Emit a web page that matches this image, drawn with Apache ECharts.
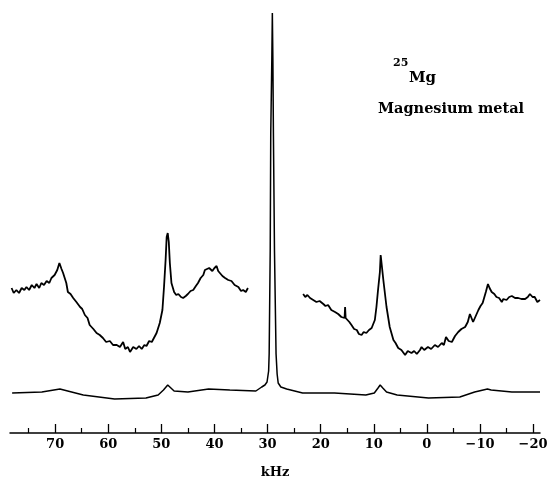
<!DOCTYPE html>
<html>
<head>
<meta charset="utf-8">
<script src="https://cdn.jsdelivr.net/npm/echarts@6/dist/echarts.min.js"></script>
<style>html,body{margin:0;padding:0;background:#fff}#c{width:547px;height:482px}</style>
</head>
<body>
<div id="c"></div>
<script>
// Frequency axis (kHz) tick values
const majorTicks = [70, 60, 50, 40, 30, 20, 10, 0, -10, -20];
const minorTicks = [75, 65, 55, 45, 35, 25, 15, 5, -5, -15];

// Lower trace (full scale): [kHz, intensity]
const lowerTrace = [[78.1,40],[72.5,41],[69.1,44],[64.7,38],[58.8,34],[52.9,35],[50.6,38],[49.6,43],[48.8,48],[48.2,45],[47.6,42],[45.0,41],[41.1,44],[37.1,43],[32.2,42],[31.1,46],[30.5,48],[30.1,51],[29.8,62],[29.7,79],[29.5,183],[29.4,300],[29.2,373],[29.1,420],[29.0,373],[28.9,300],[28.7,183],[28.4,79],[28.2,59],[28.0,50],[27.5,46],[26.4,44],[23.4,40],[17.4,40],[11.5,38],[9.9,40],[9.2,45],[8.8,48],[8.3,45],[7.6,41],[5.6,38],[-0.3,35],[-6.2,36],[-9.0,41],[-11.4,44],[-12.1,43],[-16.0,41],[-21.3,41]];

// Upper trace, left part (expanded vertical scale)
const upperLeft = [[78.2,145],[77.8,140],[77.3,143],[76.8,140],[76.3,145],[75.8,143],[75.4,146],[74.9,143],[74.4,148],[73.9,145],[73.5,149],[73.0,145],[72.6,150],[72.1,148],[71.6,152],[71.1,150],[70.7,155],[70.4,153],[70.1,158],[69.6,163],[69.2,170],[68.8,164],[68.5,160],[68.2,155],[67.9,150],[67.6,141],[67.1,139],[66.6,135],[66.0,131],[65.3,126],[64.9,124],[64.4,118],[63.9,115],[63.5,108],[62.8,104],[62.2,100],[61.6,98],[61.0,95],[60.4,91],[59.7,92],[59.1,88],[58.4,88],[57.8,86],[57.2,91],[56.8,84],[56.3,86],[55.9,81],[55.3,86],[54.7,84],[54.2,87],[53.7,84],[53.2,88],[52.8,87],[52.3,92],[51.8,91],[51.3,96],[50.9,100],[50.3,110],[49.8,123],[49.5,146],[49.2,173],[49.0,196],[48.8,200],[48.6,191],[48.4,170],[48.1,150],[47.6,141],[47.2,138],[46.8,139],[46.3,136],[45.9,135],[45.4,137],[45.0,139],[44.5,142],[44.0,143],[43.5,147],[43.1,150],[42.6,155],[42.1,158],[41.8,163],[41.5,161],[41.0,165],[40.4,162],[40.0,165],[39.6,167],[39.3,162],[39.0,160],[38.5,157],[38.0,155],[37.4,153],[36.8,152],[36.2,148],[35.5,146],[35.0,142],[34.6,143],[34.1,141],[33.7,145]];

// Upper trace, right part (expanded vertical scale)
const upperRight = [[23.3,139],[22.9,136],[22.5,138],[22.0,135],[21.4,133],[20.8,131],[20.2,132],[19.5,129],[19.1,127],[18.6,128],[18.0,123],[17.3,121],[16.7,119],[16.1,116],[15.5,115],[15.4,126],[15.3,115],[15.1,113],[14.6,111],[14.2,108],[13.7,104],[13.2,103],[12.8,99],[12.3,98],[11.9,101],[11.4,100],[10.9,103],[10.4,105],[9.8,113],[9.5,126],[9.2,143],[8.85,161],[8.7,178],[8.2,153],[7.6,126],[7.0,106],[6.3,93],[5.9,90],[5.4,85],[4.8,83],[4.1,78],[3.6,82],[2.9,80],[2.4,82],[1.9,79],[1.3,83],[1.0,86],[0.5,83],[-0.2,86],[-0.8,84],[-1.5,88],[-2.1,86],[-2.8,90],[-3.2,88],[-3.6,96],[-4.1,92],[-4.7,91],[-5.3,97],[-5.9,101],[-6.5,104],[-7.2,106],[-7.7,111],[-8.1,119],[-8.7,111],[-9.2,117],[-9.7,123],[-10.1,127],[-10.5,130],[-11.1,141],[-11.5,149],[-11.8,145],[-12.2,141],[-12.7,139],[-13.1,136],[-13.6,135],[-14.1,131],[-14.4,134],[-15.0,133],[-15.5,136],[-16.0,137],[-16.6,135],[-17.2,135],[-17.8,134],[-18.5,134],[-19.0,136],[-19.4,139],[-19.9,136],[-20.3,136],[-20.8,131],[-21.3,133]];

const SERIF = "'DejaVu Serif', 'Liberation Serif', serif";
const chart = echarts.init(document.getElementById('c'), null, {renderer: 'canvas', width: 547, height: 482});
const fmt = v => (v < 0 ? '\u2212' + Math.abs(v) : String(v));

chart.setOption({
  animation: false,
  backgroundColor: '#fff',
  grid: {left: 10, top: 0, width: 530, height: 433, containLabel: false, outerBoundsMode: 'none'},
  xAxis: [
    {
      type: 'value', inverse: true, min: -21.3, max: 78.5, position: 'bottom',
      name: 'kHz', nameLocation: 'middle', nameGap: 33,
      nameTextStyle: {fontFamily: SERIF, fontWeight: 'bold', fontSize: 13, color: '#000'},
      axisLine: {show: true, lineStyle: {color: '#000', width: 1.5}},
      axisTick: {show: true, inside: true, length: 9, customValues: majorTicks, lineStyle: {color: '#000', width: 1.3}},
      axisLabel: {show: true, customValues: majorTicks, formatter: fmt, margin: 5,
        fontFamily: SERIF, fontWeight: 'bold', fontSize: 13, color: '#000'},
      splitLine: {show: false}
    },
    {
      type: 'value', inverse: true, min: -21.3, max: 78.5, position: 'bottom',
      axisLine: {show: false},
      axisTick: {show: true, inside: true, length: 5, customValues: minorTicks, lineStyle: {color: '#000', width: 1.2}},
      axisLabel: {show: false},
      splitLine: {show: false}
    }
  ],
  yAxis: {type: 'value', min: 0, max: 433, show: false, splitLine: {show: false}},
  series: [
    {type: 'line', name: 'lower', xAxisIndex: 0, data: lowerTrace, showSymbol: false, clip: false, lineStyle: {color: '#000', width: 1.5}},
    {type: 'line', name: 'upperLeft', xAxisIndex: 0, data: upperLeft, showSymbol: false, clip: false, lineStyle: {color: '#000', width: 1.8}},
    {type: 'line', name: 'upperRight', xAxisIndex: 0, data: upperRight, showSymbol: false, clip: false, lineStyle: {color: '#000', width: 1.8}}
  ],
  graphic: [
    {type: 'text', left: 393, top: 58, style: {text: '25', font: 'bold 11px ' + SERIF, fill: '#000'}},
    {type: 'text', left: 409, top: 71, style: {text: 'Mg', font: 'bold 15px ' + SERIF, fill: '#000'}},
    {type: 'text', left: 378, top: 102, style: {text: 'Magnesium metal', font: 'bold 14.5px ' + SERIF, fill: '#000'}}
  ]
});
</script>
</body>
</html>
